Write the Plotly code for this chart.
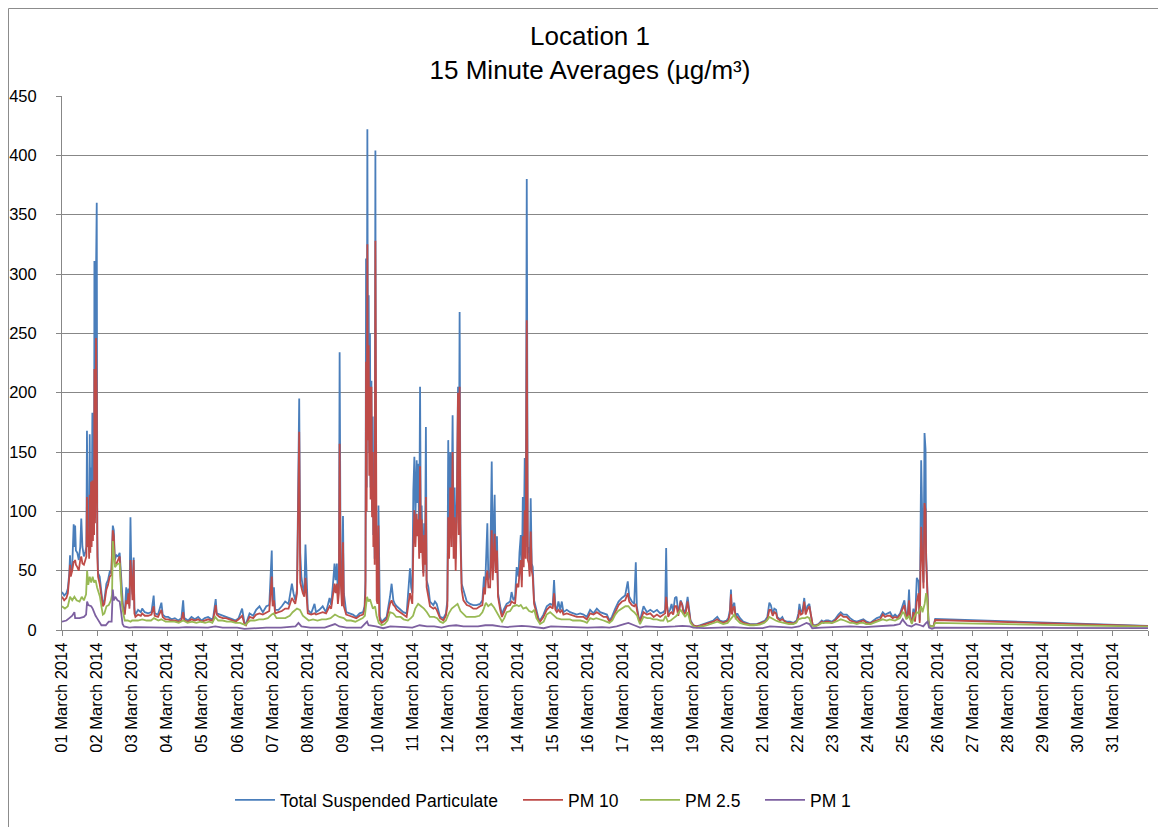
import pandas as pd
import plotly.graph_objects as go

# ---------------- data (hours after 01 March 2014 00:00) ----------------
hours_tsp_pm10 = [
    0, 1.5, 3, 4, 5, 5.5, 6, 7, 8, 8.5, 9, 9.5, 10.5, 11.5, 12.5, 13.2, 14, 15, 16, 16.7,
    17.1, 17.6, 18.2, 18.6, 19.0, 19.4, 19.9, 20.3, 20.8, 21.2, 21.6, 22.0, 22.2, 22.6, 23.0, 23.3, 23.8, 24.2,
    24.7, 25.8, 27, 28, 29, 30.4, 31.5, 32.7, 33.8, 34.8, 35.5, 36.2, 37.3, 38.4, 39.5, 40.7, 41.8, 43, 44, 44.8,
    45.5, 46.2, 46.9, 47.5, 48.3, 49.1, 49.6, 50.3,
    52.1, 54, 54.9, 56.7, 59, 61.3, 62.8, 63.5, 65.8, 68.1, 69, 70.9,
    72.7, 75, 77.3, 79.6, 81.8, 83, 83.8, 86.4, 88.7, 91, 93.3, 95.6,
    97.8, 100.1, 102.4, 103.5, 105.3, 106, 107.9, 110.2, 112.5, 114.7, 117, 118.9,
    121, 123.4, 125, 126, 128.5, 131, 133, 135.3, 137.6, 140, 142, 143.7, 144.3,
    145.2, 146, 148.3, 150.6, 152.9, 155.2, 157.5, 158.6, 159.8, 161, 162.5, 163.2, 164, 165, 166, 166.8, 167.6,
    168.4, 170.7, 173, 174, 176.3, 178.6, 180.9, 183.3, 184.4, 185.6, 186.7, 187.4, 188.3, 189, 189.7, 190.2, 190.9, 191.8, 192.5, 193.1,
    194.7, 197, 199.3, 201.6, 203.9, 206.2, 207.3, 207.9, 208.3, 208.7, 209.2, 209.6, 210.1, 210.5, 211.0,
    211.4, 212.0, 212.4, 212.9, 213.3, 213.8, 214.2, 214.7, 215.1, 215.6, 216.1, 216.8, 217.3, 217.8,
    219, 220, 222.4, 224.7, 225.8, 227, 228, 229.3, 231.6, 233.8, 236.1, 238.4, 239.2,
    240, 240.7, 241.4, 242.1, 243, 243.6, 244.1, 244.7, 245.3, 245.9, 246.4, 247.1, 247.6, 248.1, 248.7,
    249.3, 249.8, 251, 252.1, 254.4, 255.5, 256.7, 259, 261.3, 263,
    264, 264.6, 265.2, 266.0, 266.8, 267.6, 268.3, 269.0, 269.7, 270.5, 271.3, 271.8, 272.4, 273.0, 273.8,
    275, 277.3, 279.5, 281.8, 284, 286.4,
    288, 289.1, 289.8, 290.4, 291.4, 292.1, 293.3, 294.4, 295.1, 296.4, 297.1, 298, 298.7, 300.2, 301.4,
    302.5, 304.6, 307, 308, 309.3, 310.4, 311.5,
    312.7, 313.4, 314.3, 315, 315.7, 316.3, 317, 317.7, 318.4, 319.1, 319.8, 320.4, 321.1, 321.8, 322.5,
    323.4, 325.3, 326.4, 327.5, 329.8, 332.1, 334.4, 336.2, 337.1, 338,
    339, 340.1, 341.3, 342.4, 343.5, 345.8, 348.1, 350.4, 352.7, 355, 357.3, 359.6,
    361.8, 364.1, 366.4, 368.7, 371, 373.3, 375.1, 376.7, 379, 381.3, 383.6,
    385.8, 387.6, 388.6, 390.4, 392, 393.1, 393.8, 395, 396, 398.4, 400.7, 403, 405.3, 407.6,
    409.8, 411.9, 413.2, 413.9, 414.5, 415.3, 416.5, 417.6, 418.7, 419.9, 421, 422.2, 423.8, 424.9, 426,
    427.4, 428.6, 429.7, 430.6,
    432.5, 434.7, 437, 439.3, 441.6, 443.9, 446.2, 448.9, 450.7, 453, 455.3,
    456.5, 457.6, 458.3, 459, 459.6, 460.6, 461.5, 462.6, 464.5, 466.7, 469, 471.3, 473.6, 475.9, 478.2,
    481.6, 483.2, 484.6, 485.6, 486.9, 488, 489.2, 490, 491.9, 493.5, 494.6, 496.5, 498.8, 501, 503.3,
    504.5, 505.2, 506.2, 507.4, 508.5, 509.5, 510.6, 512, 512.9, 514.3, 515.9, 518.2,
    520.5, 521.6, 523.4, 525, 527.3, 529.6, 531.9, 533.5, 535.3, 537.6, 539.9, 542.2, 544.5, 546.7, 549, 551.3,
    553.6, 555.9, 558.2, 560.5, 562.3, 563.9, 565.5, 567.3, 569.1, 570.7, 572.3, 574.2, 576,
    577.1, 578.3, 579.3, 580.3, 581, 582.2, 583.3, 584.4, 585.6, 586.8, 587.6, 588.6, 589.5, 590.2, 590.9,
    591.6, 592, 592.7, 593.6, 594.3, 595.2, 597, 598.2, 744,
]

tsp = [
    32, 29, 31, 35, 48, 63, 49, 53, 89, 70, 88, 67, 65, 59, 70, 94, 70, 62, 66, 70,
    168, 90, 110, 75, 165, 85, 137, 90, 183, 95, 150, 100, 311, 110, 160, 300, 360, 80,
    48, 45, 31, 21, 25, 39, 42, 49, 48, 88, 84, 59, 63, 62, 65, 36, 20, 14, 36, 24,
    35, 20, 95, 50, 30, 61, 18, 13,
    17, 15, 18, 15, 14, 15, 29, 14, 13, 23, 13, 11,
    11, 9, 10, 8, 10, 25, 10, 8, 11, 9, 11, 8,
    10, 11, 9, 10, 26, 14, 13, 12, 11, 10, 9, 8,
    10, 18, 6, 5, 14, 12, 17, 20, 15, 20, 21, 67, 24,
    36, 17, 17, 20, 24, 22, 39, 31, 25, 34, 195, 65, 45, 36, 31, 72, 42,
    17, 14, 22, 15, 17, 20, 15, 27, 21, 38, 56, 42, 56, 28, 36, 234, 50, 28, 96, 31,
    15, 14, 13, 11, 14, 15, 20, 42, 313, 120, 422, 200, 282, 150, 250,
    120, 210, 100, 180, 80, 130, 60, 404, 90, 40, 30, 105, 15, 11,
    7, 8, 11, 28, 39, 25, 22, 20, 17, 15, 14, 52, 36,
    31, 118, 146, 93, 143, 107, 140, 70, 205, 70, 105, 65, 48, 90, 60,
    171, 42, 36, 24, 21, 24, 22, 11, 10, 14,
    25, 160, 80, 150, 90, 181, 70, 120, 60, 110, 205, 90, 268, 90, 39,
    34, 24, 22, 21, 21, 22,
    25, 45, 33, 62, 90, 42, 48, 142, 59, 114, 50, 79, 31, 20, 13,
    17, 22, 24, 32, 25, 28, 53,
    45, 65, 80, 42, 112, 65, 145, 70, 380, 65, 70, 50, 111, 56, 53,
    25, 15, 10, 8, 13, 20, 22, 21, 42, 20,
    17, 24, 17, 24, 15, 17, 15, 14, 13, 14, 13, 11,
    17, 14, 18, 15, 14, 13, 8, 11, 18, 24, 27,
    29, 41, 28, 24, 22, 57, 20, 11, 8, 20, 15, 17, 15, 17,
    14, 15, 17, 69, 21, 14, 17, 22, 15, 27, 28, 14, 25, 22, 14,
    18, 28, 17, 8,
    4, 3, 4, 5, 6, 7, 8, 11, 8, 7, 8,
    10, 17, 34, 14, 20, 23, 11, 14, 10, 7, 6, 5, 5, 5, 6,
    8, 11, 23, 21, 14, 18, 17, 11, 9, 11, 8, 7, 7, 6, 8,
    14, 22, 15, 17, 27, 14, 20, 22, 14, 4, 4, 5,
    8, 7, 8, 8, 7, 9, 13, 15, 13, 13, 10, 8, 7, 8, 9, 7,
    6, 8, 10, 11, 15, 13, 14, 15, 11, 13, 11, 14, 21,
    25, 14, 11, 34, 11, 7, 18, 8, 44, 41, 8, 143, 59, 40, 166,
    152, 65, 30, 8, 4, 3, 3, 9.3, 3.5,
]

pm10 = [
    28, 25, 27, 31, 45, 55, 45, 50, 58, 57, 59, 55, 53, 50, 59, 62, 56, 55, 59, 62,
    112, 70, 80, 60, 114, 65, 125, 70, 126, 75, 118, 80, 220, 90, 120, 246, 200, 62,
    45, 39, 28, 20, 22, 34, 38, 45, 46, 84, 79, 56, 56, 59, 62, 31, 17, 13, 25, 22,
    31, 18, 59, 45, 25, 59, 14, 11,
    13, 12, 14, 12, 12, 13, 20, 12, 11, 17, 11, 9,
    9, 8, 8, 7, 8, 15, 8, 7, 9, 8, 9, 7,
    8, 9, 8, 8, 21, 13, 11, 10, 10, 9, 8, 7,
    9, 12, 5, 4, 11, 10, 13, 14, 13, 15, 16, 45, 20,
    25, 14, 15, 16, 18, 18, 27, 25, 22, 31, 167, 40, 35, 31, 28, 44, 28,
    14, 13, 14, 13, 14, 15, 14, 20, 18, 29, 39, 31, 39, 22, 31, 157, 42, 20, 74, 20,
    13, 12, 11, 10, 12, 13, 17, 31, 226, 100, 325, 160, 240, 130, 205,
    110, 205, 95, 150, 70, 120, 55, 328, 80, 25, 22, 88, 12, 8,
    6, 7, 9, 22, 25, 21, 20, 17, 15, 13, 11, 31, 25,
    22, 70, 101, 70, 98, 79, 93, 60, 138, 65, 93, 56, 45, 80, 55,
    112, 36, 28, 20, 18, 19, 17, 10, 8, 12,
    20, 95, 60, 120, 70, 150, 60, 95, 50, 100, 200, 80, 205, 75, 34,
    25, 21, 20, 18, 18, 20,
    21, 36, 30, 42, 50, 36, 36, 84, 42, 81, 48, 67, 28, 17, 11,
    14, 20, 21, 24, 23, 22, 39,
    36, 48, 59, 36, 79, 53, 101, 60, 261, 59, 56, 45, 83, 50, 45,
    22, 13, 8, 7, 11, 17, 20, 18, 31, 17,
    15, 17, 15, 17, 13, 14, 13, 12, 11, 11, 11, 9,
    14, 13, 15, 13, 11, 11, 7, 9, 15, 21, 24,
    25, 31, 24, 21, 20, 22, 17, 10, 7, 15, 13, 14, 11, 13,
    11, 13, 14, 28, 20, 11, 14, 15, 13, 20, 20, 12, 24, 21, 13,
    15, 24, 14, 7,
    4, 3, 3.5, 4.5, 5, 6, 7, 9, 7, 6, 7,
    8, 14, 30, 13, 17, 20, 10, 11, 8, 6, 5, 4.5, 4.5, 4.5, 5.5,
    7, 9, 17, 17, 12, 15, 14, 10, 8, 9, 8, 6, 6, 5.5, 7,
    11, 17, 13, 14, 24, 13, 17, 20, 12, 4, 3.5, 4.5,
    7, 6, 7, 7, 6, 8, 11, 13, 11, 11, 8, 7, 6, 7, 8, 6,
    5.5, 7, 8, 9, 13, 11, 12, 12, 10, 11, 10, 13, 18,
    21, 11, 10, 25, 10, 6, 15, 7, 24, 31, 6, 87, 53, 35, 107,
    101, 59, 29, 7, 3.5, 3, 3, 8.4, 3.2,
]

hours_pm25 = [
    0, 2, 4, 5.5, 7, 8.5, 10, 12, 13.5, 15, 16.5, 17.2, 18, 19, 20, 21, 22, 23, 24, 25,
    26, 27, 28, 29, 30.5, 32, 33.5, 34.3, 34.8, 35.5, 36.3, 37.5, 38.5, 39.5, 40.2, 41, 42, 43, 45, 47,
    48, 50, 52, 55, 58, 61, 63, 66, 68, 71, 74, 77, 80, 83, 86, 89, 92, 95, 98, 101,
    103, 105, 107, 110, 113, 116, 119, 122, 124, 125.5, 127, 129, 132, 135, 138, 141, 143.7, 145, 147, 150,
    153, 156, 158, 161, 163, 165, 167, 169, 172, 175, 178, 181, 184, 187, 190, 193, 195, 198, 201, 204,
    206, 207.5, 209, 210, 211, 212, 213, 214.5, 215.5, 217, 219, 221, 223, 224.7, 227, 229, 232, 234, 237, 239,
    240.5, 242, 244, 246, 248, 250, 252, 255, 257, 259, 261, 263, 265, 267, 269, 271, 273, 275, 277, 280,
    283, 286, 288, 289, 290.4, 292, 294, 296, 298, 300, 301.5, 303, 304.6, 307, 309, 311.5, 313, 314.3, 316, 318,
    320, 322, 323.5, 325, 327.5, 330, 332, 334.4, 336, 339, 342, 345, 348, 350, 353, 355, 358, 359.6, 361.8, 364,
    366, 369, 371, 373, 375, 377, 379, 381, 383.6, 386, 388, 390, 392, 394, 395, 396, 398.4, 401, 403, 405,
    407.6, 410, 412, 413.5, 415, 417, 419, 421, 423.8, 425, 427, 428.6, 430.6, 432.5, 435, 437, 439, 442, 444, 446,
    449, 451, 453, 456, 458, 460.6, 462, 464.5, 467, 471, 474, 478, 481, 483, 484.6, 487, 489, 491, 494.6, 498,
    501, 503, 504.5, 507, 509, 510.6, 512, 513.6, 516, 518, 520.5, 523, 525, 528, 531.9, 533.5, 536, 539.9, 542, 544.5,
    547, 549, 551, 554, 556, 558, 560, 562.3, 565, 567, 570.7, 574, 576, 577, 578.5, 580.3, 582.2, 583.5, 585.6, 587,
    588.6, 589.5, 591, 592, 592.7, 593.6, 594.3, 595.5, 597, 598.2, 744,
]

pm25 = [
    20, 18, 20, 28, 25, 28, 25, 24, 28, 25, 30, 50, 38, 45, 40, 45, 40, 42, 36, 31,
    28, 20, 13, 14, 20, 21, 25, 30, 75, 65, 53, 55, 56, 56, 40, 22, 14, 8, 8, 7,
    8, 8, 8, 9, 8, 8, 10, 8, 9, 7, 7, 7, 6, 8, 6, 7, 6, 7, 6, 7,
    6, 11, 8, 8, 7, 7, 6, 6, 5, 4, 6, 8, 8, 9, 9, 10, 13, 14, 10, 10,
    10, 12, 15, 18, 17, 12, 10, 8, 9, 8, 9, 9, 10, 13, 11, 10, 8, 8, 7, 9,
    10, 12, 28, 24, 26, 22, 18, 20, 12, 6, 4, 5, 8, 15, 14, 11, 11, 9, 8, 10,
    12, 18, 22, 20, 18, 15, 11, 11, 10, 7, 6, 8, 14, 18, 20, 22, 16, 13, 11, 11,
    11, 12, 15, 18, 23, 20, 22, 19, 15, 11, 7, 10, 15, 16, 20, 21, 20, 21, 18, 19,
    16, 15, 17, 10, 5, 7, 13, 15, 13, 10, 9, 9, 9, 8, 8, 8, 7, 6, 10, 9,
    10, 9, 8, 7, 6, 8, 13, 16, 18, 20, 20, 17, 15, 12, 8, 5, 11, 10, 10, 9,
    9, 8, 8, 12, 7, 8, 10, 12, 17, 15, 11, 15, 6, 3, 2, 3, 3, 4, 5, 6,
    7, 6, 5, 6, 9, 13, 9, 6, 5, 4, 4, 4.5, 6, 8, 11, 9, 8, 7, 6, 5,
    5, 6, 9, 10, 10, 11, 10, 4, 3, 4, 6, 6, 6, 6, 8, 9, 8, 6, 6, 5,
    6, 6, 5, 5, 6, 7, 8, 9, 8, 9, 8, 10, 15, 14, 9, 12, 5, 10, 15, 14,
    20, 15, 22, 31, 26, 7, 3.5, 3, 3, 6, 2.8,
]

hours_pm1 = [
    0, 3, 5, 7, 8.5, 9, 12, 15, 16.5, 17.2, 18, 20, 21, 22, 23, 24, 25, 26, 27, 30,
    32, 34, 34.8, 35.5, 36.5, 38, 39.5, 40.5, 41.5, 42.5, 46, 50, 60, 70, 80, 85, 100, 105, 110, 120,
    125, 130, 140, 150, 160, 162, 164, 170, 180, 187, 190, 195, 205, 209, 210, 215, 220, 225, 230, 235,
    240, 245, 250, 255, 260, 265, 270, 275, 280, 285, 290, 295, 300, 305, 310, 315, 320, 325, 330, 335,
    340, 350, 360, 370, 375, 380, 385, 388, 392, 396, 400, 410, 420, 425, 430, 432.5, 440, 450, 460, 470,
    480, 485, 490, 500, 505, 510, 512, 514, 520, 530, 540, 550, 560, 570, 574, 576, 577, 579, 582, 585,
    588, 590, 592, 593, 594, 596, 598.2, 744,
]

pm1 = [
    7, 8, 10, 12, 15, 10, 10, 11, 13, 24, 21, 20, 18, 14, 12, 10, 8, 6, 4, 4,
    7, 7, 34, 25, 28, 25, 24, 15, 5, 3, 2, 2.5, 2, 2, 2, 2.5, 2, 3, 2, 2,
    1, 1.5, 2, 2, 3, 6, 3, 2, 2, 5, 3, 2, 2, 7, 4, 3, 1.5, 3, 3, 2.5,
    2, 4, 3, 3, 2, 3.5, 4, 3, 3, 3, 4, 4, 3, 2.5, 3, 3.5, 3, 2, 1.5, 3,
    3, 2.5, 2, 2.5, 2, 3, 5, 6, 4, 2, 3, 2.5, 3, 3.5, 3, 2, 1.5, 2, 2.5, 1.5,
    1.5, 3, 2.5, 2, 3, 6, 5, 1.5, 2, 2.5, 3, 2.5, 3, 4, 5, 9, 7, 4, 3, 5,
    4, 3, 6, 7, 2, 1, 2, 1.5,
]

series_names = ["Total Suspended Particulate", "PM 10", "PM 2.5", "PM 1"]
series_colors = ["#4A7EBB", "#BE4B48", "#98B954", "#7D60A0"]
legend_text_widths = [233, 62, 70, None]   # px reserved for each legend label
day_labels = [f"{d:02d} March 2014" for d in range(1, 32)]

for h, v in [(hours_tsp_pm10, tsp), (hours_tsp_pm10, pm10), (hours_pm25, pm25), (hours_pm1, pm1)]:
    if len(h) != len(v):
        raise ValueError(f"length mismatch {len(h)} vs {len(v)}")

start = pd.Timestamp("2014-03-01")


def to_times(hours):
    return [start + pd.Timedelta(hours=h) for h in hours]


fig = go.Figure()
for name, color, lw, hrs, vals in zip(
    series_names, series_colors, legend_text_widths,
    [hours_tsp_pm10, hours_tsp_pm10, hours_pm25, hours_pm1],
    [tsp, pm10, pm25, pm1],
):
    tr = go.Scatter(x=to_times(hrs), y=vals, mode="lines", name=name,
                    line=dict(color=color, width=1.8))
    if lw is not None:
        tr.legendwidth = lw
    fig.add_trace(tr)

# layout in pixels (page body has an 8px margin, so the figure is offset by 8px)
OFF = 8
W, H = 1166 - OFF, 827 - OFF
L = 62 - OFF           # plot left at page x 62
T = 96 - OFF           # plot top at page y 96
R = 1166 - 1148        # plot right at page x 1148
B = 827 - 630          # plot bottom at page y 630
pw, ph = W - L - R, H - T - B


def px_x(p):
    return (p - OFF - L) / pw


def px_y(p):
    return (H - B - (p - OFF)) / ph


tick_dates = [start + pd.Timedelta(days=d) for d in range(32)]
tick_text = day_labels + [""]

grid = "#878787"
fig.update_layout(
    width=W, height=H,
    margin=dict(l=L, r=R, t=T, b=B, autoexpand=False),
    paper_bgcolor="white", plot_bgcolor="white",
    font=dict(family="Liberation Sans, Arial, sans-serif", size=16, color="#000000"),
    title=dict(text="Location 1<br>15 Minute Averages (µg/m³)",
               x=(590 - OFF) / W, xanchor="center", xref="container",
               y=1 - 37 / H, yanchor="top", yref="container",
               font=dict(size=26, family="Liberation Sans, Arial, sans-serif", color="#000000")),
    showlegend=True,
    legend=dict(orientation="h", x=px_x(230), xanchor="left", y=px_y(800), yanchor="middle",
                font=dict(size=17.5), bgcolor="rgba(0,0,0,0)", traceorder="normal",
                itemwidth=40),
    xaxis=dict(
        type="date", range=[tick_dates[0], tick_dates[-1]],
        tickmode="array", tickvals=tick_dates, ticktext=tick_text,
        tickangle=-90, ticks="outside", ticklen=5, tickcolor=grid,
        showline=True, linecolor=grid, linewidth=1,
        showgrid=False, zeroline=False, tickfont=dict(size=16.5),
    ),
    yaxis=dict(
        range=[0, 450], dtick=50, tick0=0,
        ticks="outside", ticklen=5, tickcolor=grid,
        showline=True, linecolor=grid, linewidth=1,
        showgrid=True, gridcolor=grid, gridwidth=1, zeroline=False,
        tickfont=dict(size=16.5), ticklabelstandoff=16,
    ),
    shapes=[dict(type="rect", xref="paper", yref="paper",
                 x0=px_x(8.5), x1=px_x(1163), y0=px_y(840), y1=px_y(8.5),
                 line=dict(color="#8C8C8C", width=1), fillcolor="rgba(0,0,0,0)",
                 layer="below")],
)

fig.write_html("out.html")
